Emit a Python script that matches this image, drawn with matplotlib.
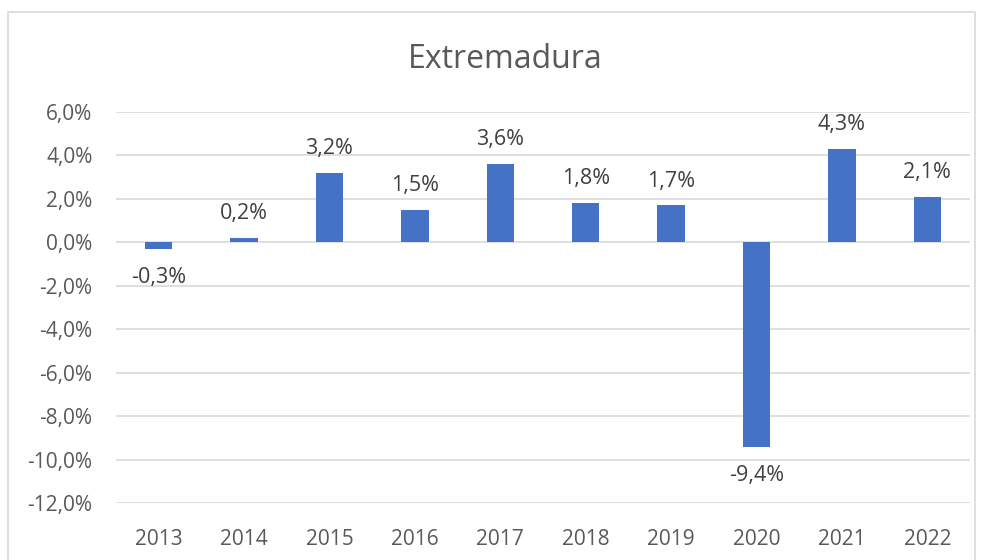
import matplotlib.pyplot as plt
import numpy as np
from matplotlib.patches import Rectangle

# datos del grafico
anios = ['2013', '2014', '2015', '2016', '2017', '2018', '2019', '2020', '2021', '2022']
variacion = [-0.3, 0.2, 3.2, 1.5, 3.6, 1.8, 1.7, -9.4, 4.3, 2.1]
ticks_y = [6, 4, 2, 0, -2, -4, -6, -8, -10, -12]

azul = '#4472C4'
gris_texto = '#595959'
gris_linea = '#D9D9D9'

plt.rcParams['font.family'] = ['Open Sans', 'DejaVu Sans']

fig = plt.figure(figsize=(9.85, 5.6), dpi=100)
W, H = 985, 560

# marco del grafico
fig.patches.append(Rectangle((8 / W, -0.05), (975 - 8) / W, 1.05 - 12 / H,
                             transform=fig.transFigure, fill=False,
                             edgecolor=gris_linea, linewidth=1.2))

ax = fig.add_axes([116 / W, 1 - 503 / H, (970 - 116) / W, (503 - 112) / H])

x = np.arange(len(anios))
ax.bar(x, variacion, width=0.32, color=azul, zorder=3)

ax.set_xlim(-0.5, len(anios) - 0.5)
ax.set_ylim(-12, 6)
ax.set_yticks(ticks_y)
ax.set_yticklabels([f'{v:.1f}%'.replace('.', ',') for v in ticks_y])
ax.set_xticks(x)
ax.set_xticklabels(anios)
ax.grid(axis='y', color=gris_linea, linewidth=1.2, zorder=0)
for s in ax.spines.values():
    s.set_visible(False)
ax.tick_params(axis='both', length=0, colors=gris_texto, labelsize=15)
ax.tick_params(axis='y', pad=17)
ax.tick_params(axis='x', pad=19)

# etiquetas de datos
for xi, v in zip(x, variacion):
    txt = f'{v:.1f}%'.replace('.', ',')
    if v >= 0:
        ax.annotate(txt, (xi, v), xytext=(0, 10), textcoords='offset points',
                    ha='center', va='bottom', fontsize=15.5, color='#404040')
    else:
        ax.annotate(txt, (xi, v), xytext=(0, -13), textcoords='offset points',
                    ha='center', va='top', fontsize=15.5, color='#404040')

fig.text(505 / W, 1 - 59 / H, 'Extremadura', ha='center', va='center',
         fontsize=23, color=gris_texto)

fig.savefig('out.png', dpi=100)
